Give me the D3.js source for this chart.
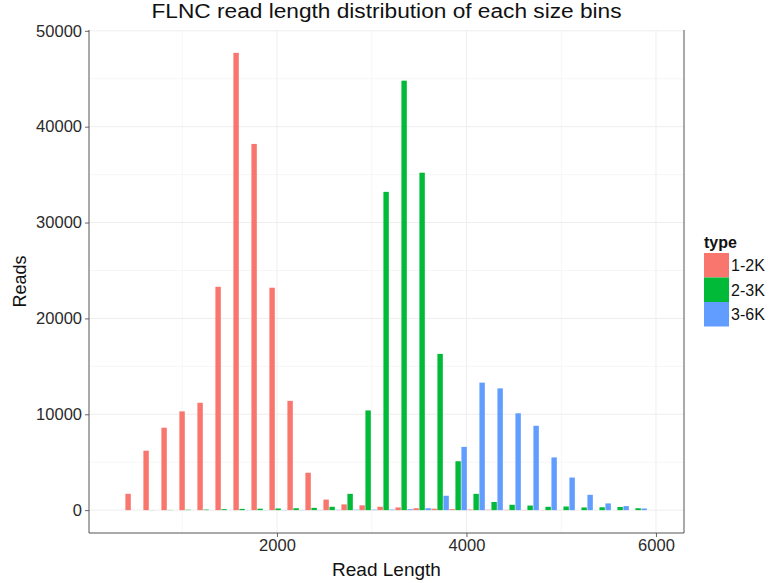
<!DOCTYPE html>
<html>
<head>
<meta charset="utf-8">
<script src="https://cdn.jsdelivr.net/npm/d3@7"></script>
<style>
  body { margin: 0; background: #fff; }
  svg { display: block; font-family: "Liberation Sans", Arial, sans-serif; }
</style>
</head>
<body>
<svg id="chart" width="771" height="583"></svg>
<script>
// histogram bins (centre of each bin, bp) and counts per size bin type
const types = ['1-2K', '2-3K', '3-6K']
const colors = ['#F8766D', '#00BA38', '#619CFF']
const binWidth = 190
const binCenters = [492, 682, 872, 1062, 1252, 1442, 1632, 1822, 2012, 2202, 2392, 2582, 2772, 2962, 3152,
  3342, 3532, 3722, 3912, 4102, 4292, 4482, 4672, 4862, 5052, 5242, 5432, 5622, 5812]
const reads12 = [1700, 6200, 8600, 10300, 11200, 23300, 47700, 38200, 23200, 11400, 3900, 1100, 600, 500, 350,
  280, 200, 150, 100, 60, 40, 30, 20, 10, 5, 0, 0, 0, 0]
const reads23 = [0, 10, 20, 40, 60, 100, 130, 150, 170, 200, 240, 350, 1700, 10400, 33200,
  44800, 35200, 16300, 5100, 1700, 850, 560, 480, 350, 380, 280, 300, 330, 200]
const reads36 = [0, 0, 0, 0, 5, 5, 10, 10, 15, 20, 20, 30, 40, 50, 60,
  100, 200, 1500, 6600, 13300, 12700, 10100, 8800, 5500, 3400, 1600, 700, 420, 170]
const series = [reads12, reads23, reads36]

const xTicks = [2000, 4000, 6000]
const xMinor = [1000, 3000, 5000]
const yTicks = [0, 10000, 20000, 30000, 40000, 50000]
const yMinor = [5000, 15000, 25000, 35000, 45000]

const L = 89, R = 684, T = 30, B = 533

const svg = d3.select('#chart')
const x = d3.scaleLinear().domain([16, 6296]).range([L, R])
const y = d3.scaleLinear().domain([-2385, 50085]).range([B, T])

// grid
const grid = svg.append('g')
grid.selectAll('line.ym').data(yMinor).join('line')
  .attr('x1', L).attr('x2', R).attr('y1', d => y(d)).attr('y2', d => y(d))
  .attr('stroke', '#f6f6f6').attr('stroke-width', 1)
grid.selectAll('line.xm').data(xMinor).join('line')
  .attr('y1', T).attr('y2', B).attr('x1', d => x(d)).attr('x2', d => x(d))
  .attr('stroke', '#f6f6f6').attr('stroke-width', 1)
grid.selectAll('line.yg').data(yTicks).join('line')
  .attr('x1', L).attr('x2', R).attr('y1', d => y(d)).attr('y2', d => y(d))
  .attr('stroke', '#eeeeee').attr('stroke-width', 1)
grid.selectAll('line.xg').data(xTicks).join('line')
  .attr('y1', T).attr('y2', B).attr('x1', d => x(d)).attr('x2', d => x(d))
  .attr('stroke', '#eeeeee').attr('stroke-width', 1)

// bars, dodged within each bin
const slot = binWidth / 3
const bars = []
series.forEach(function (vals, j) {
  vals.forEach(function (v, i) {
    const left = binCenters[i] - binWidth / 2 + j * slot
    bars.push({ j: j, x0: left + slot * 0.05, x1: left + slot * 0.95, v: v })
  })
})
svg.append('g').selectAll('rect').data(bars.filter(d => d.v > 0)).join('rect')
  .attr('x', d => x(d.x0)).attr('width', d => x(d.x1) - x(d.x0))
  .attr('y', d => y(d.v)).attr('height', d => y(0) - y(d.v))
  .attr('fill', d => colors[d.j])

// axes
const yAxis = svg.append('g').attr('transform', 'translate(' + L + ',0)')
  .call(d3.axisLeft(y).tickValues(yTicks).tickSize(4).tickPadding(3).tickFormat(d3.format('d')))
const xAxis = svg.append('g').attr('transform', 'translate(0,' + B + ')')
  .call(d3.axisBottom(x).tickValues(xTicks).tickSize(4).tickPadding(2).tickFormat(d3.format('d')))
;[yAxis, xAxis].forEach(function (a) {
  a.select('.domain').remove()
  a.selectAll('line').attr('stroke', '#666')
  a.selectAll('text').attr('fill', '#2a2a2a').attr('font-size', '16.5px').attr('font-family', '"Liberation Sans", Arial, sans-serif')
})
svg.append('line').attr('x1', L).attr('x2', L).attr('y1', T).attr('y2', B).attr('stroke', '#555')
svg.append('line').attr('x1', L).attr('x2', R).attr('y1', B).attr('y2', B).attr('stroke', '#555')
svg.append('line').attr('x1', R).attr('x2', R).attr('y1', T).attr('y2', B).attr('stroke', '#555')

// titles
svg.append('text').attr('x', (L + R) / 2).attr('y', 18).attr('text-anchor', 'middle')
  .attr('font-size', '20px').attr('textLength', 470).attr('lengthAdjust', 'spacingAndGlyphs')
  .attr('fill', '#111').text('FLNC read length distribution of each size bins')
svg.append('text').attr('x', (L + R) / 2).attr('y', 576).attr('text-anchor', 'middle')
  .attr('font-size', '19px').attr('fill', '#111').text('Read Length')
svg.append('text').attr('transform', 'translate(26,' + (T + B) / 2 + ') rotate(-90)').attr('text-anchor', 'middle')
  .attr('font-size', '18px').attr('fill', '#111').text('Reads')

// legend
const lg = svg.append('g').attr('transform', 'translate(704,253)')
lg.append('text').attr('x', 0).attr('y', -5).attr('font-size', '16px').attr('font-weight', 'bold').attr('fill', '#111').text('type')
const li = lg.selectAll('g.item').data(types).join('g').attr('class', 'item')
  .attr('transform', (d, i) => 'translate(0,' + i * 24.5 + ')')
li.append('rect').attr('width', 25).attr('height', 24.5).attr('fill', (d, i) => colors[i])
li.append('text').attr('x', 27).attr('y', 18).attr('font-size', '16px').attr('fill', '#111').text(d => d)
</script>
</body>
</html>
